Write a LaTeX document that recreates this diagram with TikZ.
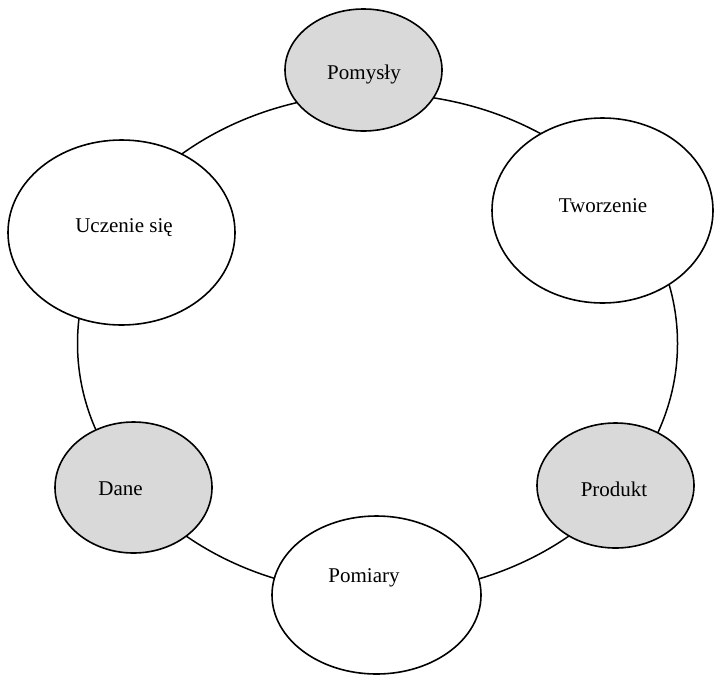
\documentclass[tikz,border=0pt]{standalone}
\usepackage{fontspec}
\setmainfont{Liberation Serif}
\usetikzlibrary{shapes.geometric}
\definecolor{shade}{HTML}{D9D9D9}
\begin{document}
\begin{tikzpicture}[x=1pt,y=-1pt,
  blob/.style={ellipse, draw=black, line width=1.6pt, inner sep=0pt, fill=white},
  grayblob/.style={blob, fill=shade},
  lbl/.style={font=\fontsize{21}{25}\selectfont, text=black, inner sep=0pt},
  conn/.style={draw=black, line width=1.5pt}]
\useasboundingbox (0,0) rectangle (714,675);
\coordinate (c) at (377.5,343.5);
\draw[conn] (c) ellipse [x radius=300, y radius=250];
\node[grayblob, minimum width=157pt, minimum height=122pt] (pomysly) at (363.5,70) {};
\node[blob, minimum width=221pt, minimum height=185pt] (tworzenie) at (602.5,210.5) {};
\node[blob, minimum width=227pt, minimum height=185pt] (uczenie) at (121.5,232.5) {};
\node[grayblob, minimum width=157pt, minimum height=131pt] (dane) at (133.5,487.5) {};
\node[grayblob, minimum width=157pt, minimum height=125pt] (produkt) at (615.5,485.5) {};
\node[blob, minimum width=209pt, minimum height=158pt] (pomiary) at (376.5,595) {};
\node[lbl] (tpomysly) at (364,74) {Pomysły};
\node[lbl] (ttworzenie) at (603,206) {Tworzenie};
\node[lbl] (tuczenie) at (124,228) {Uczenie się};
\node[lbl] (tdane) at (120.5,489) {Dane};
\node[lbl] (tprodukt) at (614,489) {Produkt};
\node[lbl] (tpomiary) at (364,578) {Pomiary};
\end{tikzpicture}
\end{document}
